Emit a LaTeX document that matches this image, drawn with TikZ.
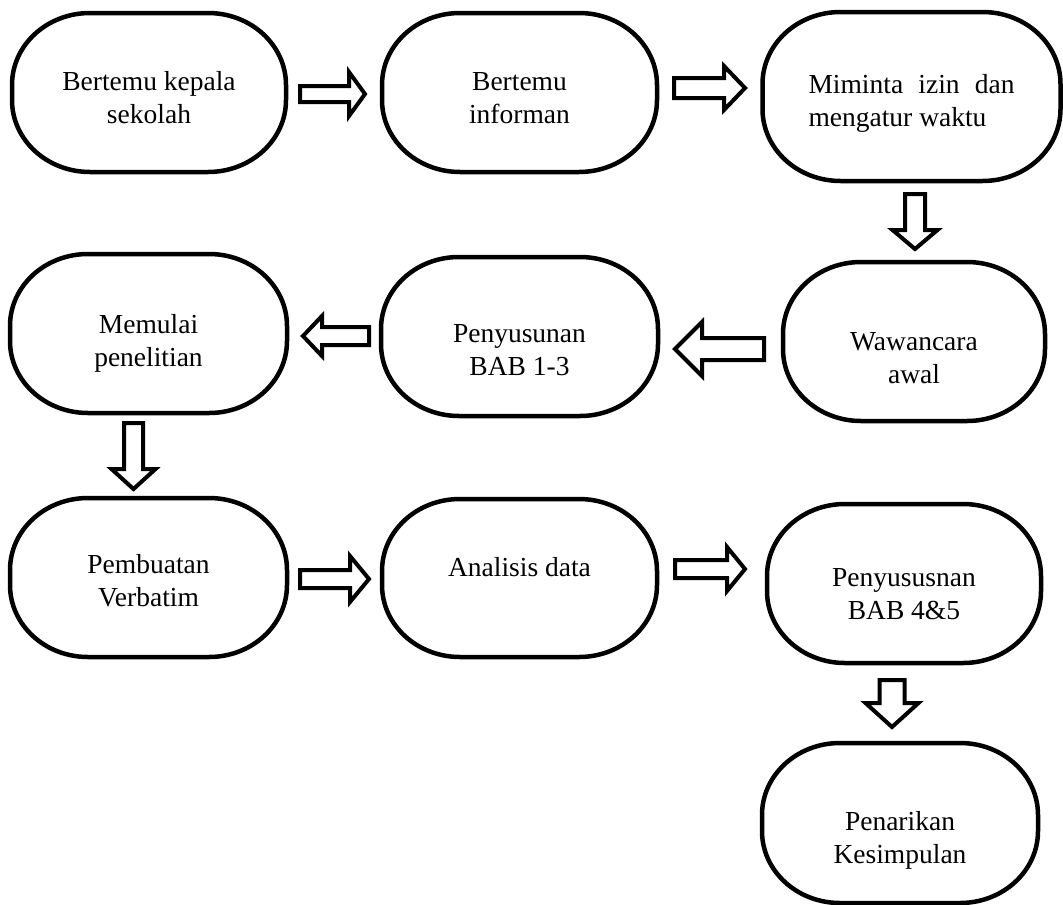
\documentclass[tikz,border=0pt]{standalone}
\usepackage{fontspec}
\setmainfont{Liberation Serif}
\usetikzlibrary{calc,positioning}

\tikzset{
  tahap/.style={align=center, minimum width=275pt, minimum height=159pt,
    inner sep=0pt, outer sep=0pt, font=\fontsize{27.5}{33}\selectfont},
  garis/.style={line width=4.5pt, line join=round},
  panah/.style={draw, fill=white, line width=4pt, line join=miter}
}

% two lines of text, first baseline set by the strut height #1
\newcommand{\duabaris}[3]{\rule{0pt}{#1}#2\\#3\rule[-10pt]{0pt}{10pt}}

% rounded outline round a step node
\newcommand{\kotak}[1]{%
  \draw[garis]
    ($(#1.north west)+(78,0)$) -- ($(#1.north east)+(-78,0)$)
    .. controls ($(#1.north east)+(-35,0)$) and ($(#1.north east)+(0,32)$) .. ($(#1.north east)+(0,72)$)
    -- ($(#1.south east)+(0,-72)$)
    .. controls ($(#1.south east)+(0,-32)$) and ($(#1.south east)+(-35,0)$) .. ($(#1.south east)+(-78,0)$)
    -- ($(#1.south west)+(78,0)$)
    .. controls ($(#1.south west)+(35,0)$) and ($(#1.south west)+(0,-32)$) .. ($(#1.south west)+(0,-72)$)
    -- ($(#1.north west)+(0,72)$)
    .. controls ($(#1.north west)+(0,32)$) and ($(#1.north west)+(35,0)$) .. ($(#1.north west)+(78,0)$)
    -- cycle;
}

% hollow block arrow: tail, tip, shaft half width, head half width, head length
\newcommand{\blockarrow}[5]{%
  \coordinate (hb) at ($(#2)!#5!(#1)$);
  \draw[panah] ($(#1)!#3!90:(#2)$) -- ($(hb)!#3!90:(#2)$) -- ($(hb)!#4!90:(#2)$)
    -- (#2) -- ($(hb)!#4!-90:(#2)$) -- ($(hb)!#3!-90:(#2)$)
    -- ($(#1)!#3!-90:(#2)$) -- cycle;
}

\begin{document}
\begin{tikzpicture}[x=1pt, y=-1pt]
  \useasboundingbox (0,0) rectangle (1063,905);

  % first row
  \node[tahap, minimum width=274pt] (b1) at (149,92.5)
    {\duabaris{38.6pt}{Bertemu kepala}{sekolah}};
  \node[tahap] (b2) at (519.5,92.5) {\duabaris{38pt}{Bertemu}{informan}};
  \node[tahap, align=left, minimum width=298pt, minimum height=169pt] (b3) at (911.5,96.5)
    {\duabaris{37pt}{\makebox[206pt][s]{Miminta izin dan}}{mengatur waktu}};

  % second row
  \node[tahap, minimum width=262pt] (b4) at (914,341.5) {\duabaris{60pt}{Wawancara}{awal}};
  \node[tahap, minimum width=277pt] (b5) at (519.5,336.5) {\duabaris{55pt}{Penyusunan}{BAB 1-3}};
  \node[tahap, minimum width=277pt] (b6) at (148.5,333.5) {\duabaris{42pt}{Memulai}{penelitian}};

  % third row
  \node[tahap, minimum width=277pt] (b7) at (148.5,577.5) {\duabaris{34pt}{Pembuatan}{Verbatim}};
  \node[tahap, minimum height=158pt] (b8) at (519.5,578)
    {\rule{0pt}{20pt}Analisis data\rule[-24pt]{0pt}{24pt}};
  \node[tahap, minimum width=274pt] (b9) at (904,583.5) {\duabaris{49pt}{Penyususnan}{BAB 4\&5}};
  \node[tahap, minimum width=276pt, minimum height=160pt] (b10) at (900,823)
    {\duabaris{57pt}{Penarikan}{Kesimpulan}};

  \foreach \b in {b1,b2,b3,b4,b5,b6,b7,b8,b9,b10}
    \kotak{\b};

  % arrow ends
  \coordinate (a1s) at ($(b1.east)+(14,1.5)$);
  \coordinate (a1e) at ($(b2.west)+(-17,1.5)$);
  \coordinate (a2s) at ($(b2.east)+(17,-4.5)$);
  \coordinate (a2e) at ($(b3.west)+(-17.5,-8.5)$);
  \coordinate (a3s) at ($(b3.south)+(3.5,13)$);
  \coordinate (a3e) at ($(b4.north)+(1,-13)$);
  \coordinate (a4s) at ($(b4.west)+(-19,7.5)$);
  \coordinate (a4e) at ($(b5.east)+(17,12.5)$);
  \coordinate (a5s) at ($(b5.west)+(-12,-0.5)$);
  \coordinate (a5e) at ($(b6.east)+(16,2.5)$);
  \coordinate (a6s) at ($(b6.south)+(-15,10)$);
  \coordinate (a6e) at ($(b7.north)+(-15,-9)$);
  \coordinate (a7s) at ($(b7.east)+(13,1.5)$);
  \coordinate (a7e) at ($(b8.west)+(-13,1)$);
  \coordinate (a8s) at ($(b8.east)+(18,-9)$);
  \coordinate (a8e) at ($(b9.west)+(-22,-14.5)$);
  \coordinate (a9s) at ($(b9.south)+(-12,17)$);
  \coordinate (a9e) at ($(b10.north)+(-8,-16)$);

  \blockarrow{a1s}{a1e}{8pt}{22pt}{16pt}
  \blockarrow{a2s}{a2e}{10pt}{22pt}{21pt}
  \blockarrow{a3s}{a3e}{10pt}{22.5pt}{19pt}
  \blockarrow{a4s}{a4e}{11pt}{27pt}{27pt}
  \blockarrow{a5s}{a5e}{9pt}{20pt}{19pt}
  \blockarrow{a6s}{a6e}{9.5pt}{22pt}{20pt}
  \blockarrow{a7s}{a7e}{9pt}{23pt}{19pt}
  \blockarrow{a8s}{a8e}{9pt}{22pt}{18pt}
  \blockarrow{a9s}{a9e}{12.5pt}{26.5pt}{24pt}
\end{tikzpicture}
\end{document}
